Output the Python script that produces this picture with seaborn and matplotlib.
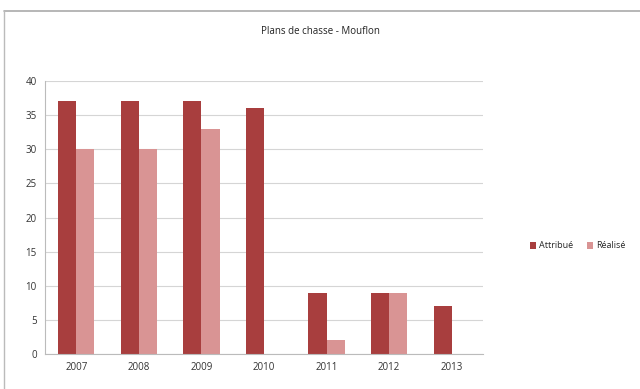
import matplotlib
matplotlib.use("Agg")
import matplotlib.pyplot as plt
import seaborn as sns
import pandas as pd
import numpy as np
from matplotlib.lines import Line2D

years = ["2007", "2008", "2009", "2010", "2011", "2012", "2013"]
attribue = [37, 37, 37, 36, 9, 9, 7]
realise = [30, 30, 33, np.nan, 2, 9, np.nan]
series = ["Attribué", "Réalisé"]
colors = ["#A83E3E", "#D99494"]
yticks = [0, 5, 10, 15, 20, 25, 30, 35, 40]

df = pd.DataFrame({
    "year": years * 2,
    "value": attribue + realise,
    "series": [series[0]] * len(years) + [series[1]] * len(years),
})

sns.set_style("white")
plt.rcParams["font.family"] = ["Open Sans", "DejaVu Sans"]

fig = plt.figure(figsize=(6.4, 3.89), dpi=100)
ax = fig.add_axes([45/640, 1-354/389, 438/640, 273/389])

sns.barplot(data=df, x="year", y="value", hue="series", palette=colors,
            width=0.58, ax=ax, saturation=1, legend=True, linewidth=0)

ax.set_ylim(0, 40)
ax.set_xlim(-0.5, len(years) - 0.5)
ax.set_yticks(yticks)
ax.set_yticklabels([str(t) for t in yticks], fontsize=7, color="#333333")
ax.tick_params(axis="x", labelsize=7, colors="#333333", length=0, pad=6)
ax.tick_params(axis="y", length=3, color="#BBBBBB", pad=3)
ax.set_xticks(range(len(years)))
ax.set_xticklabels(years)
# minor ticks between categories on x
ax.set_xticks(np.arange(-0.5, len(years), 1), minor=True)
ax.tick_params(axis="x", which="minor", length=3, color="#BBBBBB")
ax.set_xlabel("")
ax.set_ylabel("")
ax.yaxis.grid(True, color="#D5D5D5", linewidth=0.8)
ax.set_axisbelow(True)
for s in ["top", "right"]:
    ax.spines[s].set_visible(False)
for s in ["left", "bottom"]:
    ax.spines[s].set_color("#BBBBBB")
    ax.spines[s].set_linewidth(0.8)

leg = ax.legend(loc="center left", bbox_to_anchor=(522/640, 1-246/389),
                bbox_transform=fig.transFigure, ncol=2, frameon=False,
                fontsize=6.5, handlelength=0.7, handleheight=0.7,
                handletextpad=0.3, columnspacing=1.5)

fig.text(0.5, 1-31/389, "Plans de chasse - Mouflon", ha="center", va="center",
         fontsize=7, color="#222222")

# outer frame
fig.add_artist(Line2D([3.5/640, 1], [1-10.5/389, 1-10.5/389],
                      transform=fig.transFigure, color="#AAAAAA", linewidth=1.2))
fig.add_artist(Line2D([3.5/640, 3.5/640], [0, 1-10.5/389],
                      transform=fig.transFigure, color="#BBBBBB", linewidth=1.0))

fig.savefig("out.png", dpi=100)
